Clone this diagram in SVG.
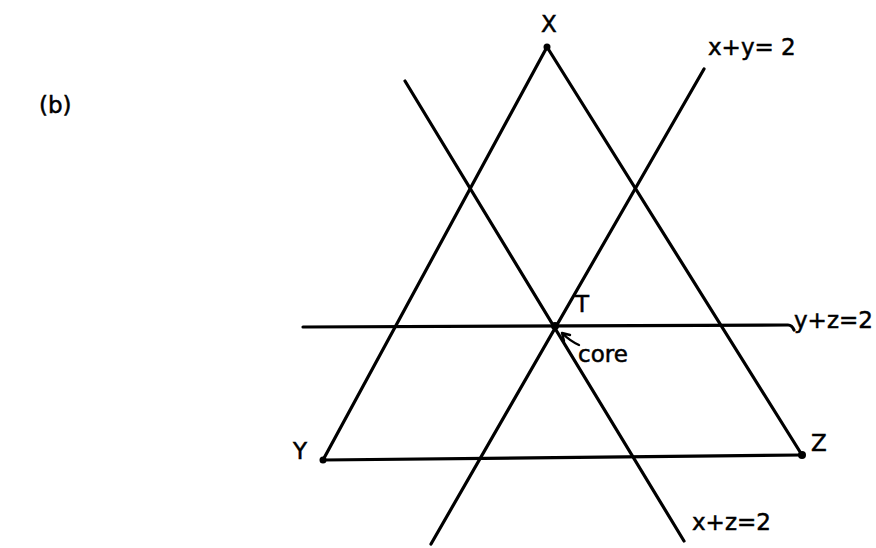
<svg xmlns="http://www.w3.org/2000/svg" width="876" height="548" viewBox="0 0 876 548">
<defs>
<style>
.ln{stroke:#000;stroke-width:3.2;fill:none;stroke-linecap:round;stroke-linejoin:round}
.thin{stroke:#000;stroke-width:2.4;fill:none;stroke-linecap:round;stroke-linejoin:round}
.lb{font-family:"DejaVu Sans","Liberation Sans",sans-serif;font-size:23px;fill:#000;stroke:#000;stroke-width:0.5}
.dot{fill:#000}
</style>
</defs>
<rect width="876" height="548" fill="#fff"/>
<text class="lb" x="39" y="113">(b)</text>
<g id="connectors">
<path class="ln" d="M547,47 L323,460"/>
<path class="ln" d="M547,47 L802,455"/>
<path class="ln" d="M323,460 L802,455"/>
<path class="ln" d="M303,327 L788,325 Q792,325 794,330"/>
<path class="ln" d="M431,544 L704,69"/>
<path class="ln" d="M405,81 L684,541"/>
<path class="thin" d="M579,345 Q570,341 562,333 M562,333 L564,341 M562,333 L570,335"/>
</g>
<g id="nodeX">
<circle class="dot" cx="547" cy="47" r="3.5"/>
<text class="lb" x="549" y="32" text-anchor="middle">X</text>
</g>
<g id="nodeY">
<circle class="dot" cx="323" cy="460" r="3.5"/>
<text class="lb" x="300" y="459" text-anchor="middle">Y</text>
</g>
<g id="nodeZ">
<circle class="dot" cx="802" cy="455" r="4"/>
<text class="lb" x="819" y="451" text-anchor="middle">Z</text>
</g>
<g id="nodeT">
<circle class="dot" cx="555" cy="326" r="4"/>
<text class="lb" x="582" y="312" text-anchor="middle">T</text>
<text class="lb" x="578" y="362">core</text>
</g>
<g id="labels">
<text class="lb" x="708" y="55">x+y= 2</text>
<text class="lb" x="794" y="328">y+z=2</text>
<text class="lb" x="692" y="530">x+z=2</text>
</g>
</svg>
